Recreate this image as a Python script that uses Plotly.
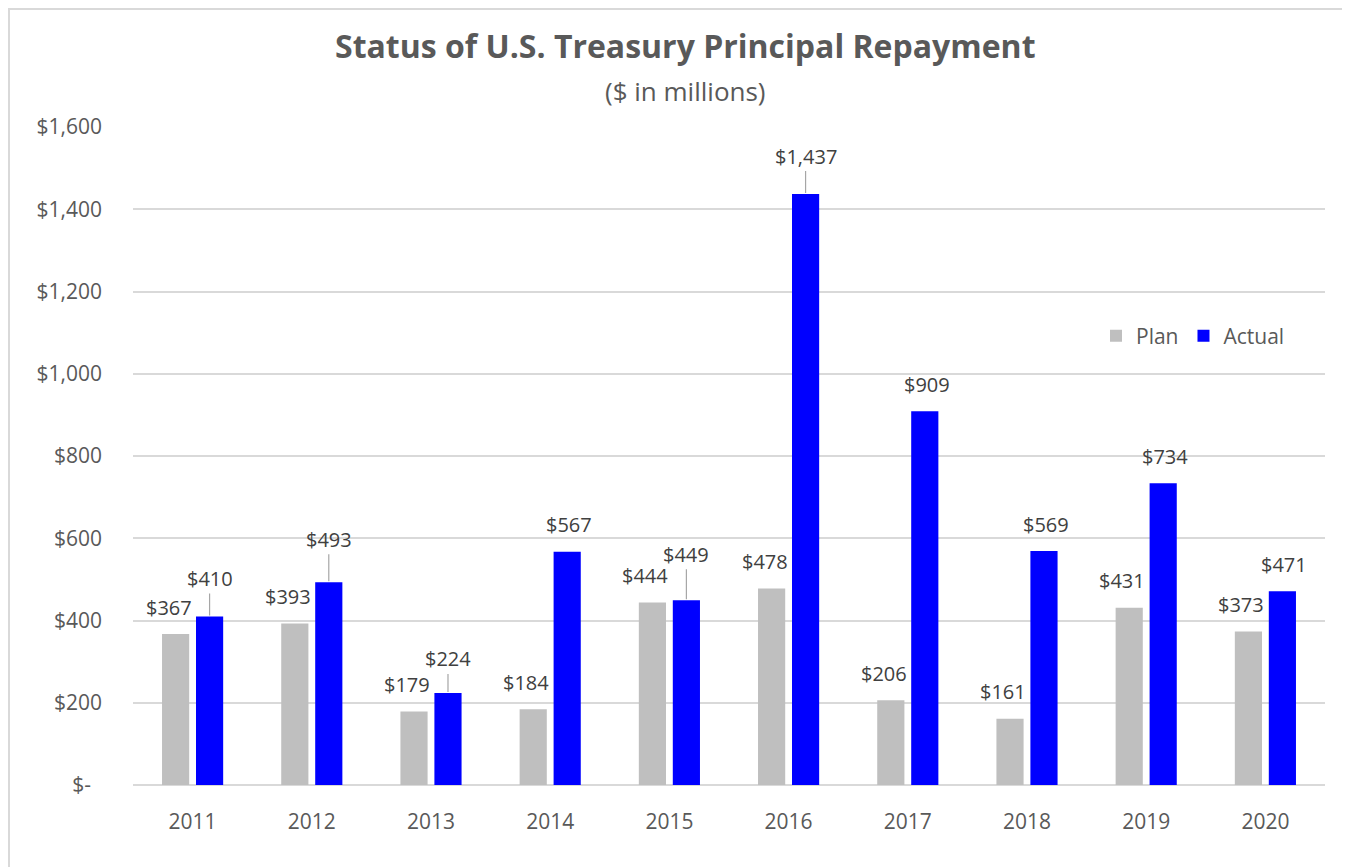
import plotly.graph_objects as go

# ---------------- data ----------------
YEARS = ["2011", "2012", "2013", "2014", "2015", "2016", "2017", "2018", "2019", "2020"]
PLAN = [367, 393, 179, 184, 444, 478, 206, 161, 431, 373]
ACTUAL = [410, 493, 224, 567, 449, 1437, 909, 569, 734, 471]
SERIES_NAMES = ["Plan", "Actual"]
Y_TICKS = [0, 200, 400, 600, 800, 1000, 1200, 1400, 1600]
Y_TICK_LABELS = ["$-\u00a0\u00a0", "$200", "$400", "$600", "$800", "$1,000", "$1,200", "$1,400", "$1,600"]
TITLE = "Status of U.S. Treasury Principal Repayment"
SUBTITLE = "($ in millions)"

# ---------------- style / layout constants ----------------
PAGE_MARGIN = 8          # default browser body margin around the plot div
SCREEN_W, SCREEN_H = 1350, 867
W, H = SCREEN_W - PAGE_MARGIN, SCREEN_H - PAGE_MARGIN
# target plot area in screen pixels
PLOT_LEFT, PLOT_RIGHT, PLOT_TOP, PLOT_BOTTOM = 133, 1325, 127, 785
M_L = PLOT_LEFT - PAGE_MARGIN
M_R = SCREEN_W - PLOT_RIGHT
M_T = PLOT_TOP - PAGE_MARGIN
M_B = SCREEN_H - PLOT_BOTTOM
PLOT_W = PLOT_RIGHT - PLOT_LEFT
PLOT_H = PLOT_BOTTOM - PLOT_TOP
BARGAP = 0.43
BARGROUPGAP = 0.2
COLORS = ["#BFBFBF", "#0000FF"]
TEXT = "#595959"
LABEL_TEXT = "#404040"
GRID = "#D9D9D9"
FONT = "Open Sans"

# label placement (pixels): default lift above bar top and horizontal nudge
LABEL_LIFT = 27
LABEL_DX = [-7, 2]
# labels drawn with a leader line: series index -> {year: lift in px}
LEADER_LIFT = {1: {"2011": 38, "2012": 43, "2013": 34, "2015": 46, "2016": 38}}

cat_px = PLOT_W / len(YEARS)
slot_px = cat_px * (1 - BARGAP) / 2
bar_offsets = [-slot_px / 2, slot_px / 2]


def px_to_paper_x(px):
    return (px - PLOT_LEFT) / PLOT_W


def px_to_paper_y(py):
    return (PLOT_BOTTOM - py) / PLOT_H


fig = go.Figure()
for i, (name, vals) in enumerate(zip(SERIES_NAMES, [PLAN, ACTUAL])):
    fig.add_trace(go.Bar(
        x=YEARS, y=vals, name=name,
        marker=dict(color=COLORS[i], line=dict(width=0)),
        hoverinfo="x+y",
    ))

annotations = []
for i, vals in enumerate([PLAN, ACTUAL]):
    leaders = LEADER_LIFT.get(i, {})
    for k, (yr, v) in enumerate(zip(YEARS, vals)):
        txt = f"${v:,}"
        if yr in leaders:
            annotations.append(dict(
                x=k, y=v, xref="x", yref="y", text=txt,
                xshift=bar_offsets[i], showarrow=True, arrowhead=0,
                arrowwidth=1.2, arrowcolor="#A6A6A6", ax=0, ay=-leaders[yr],
                standoff=1,
                font=dict(family=FONT, size=20, color=LABEL_TEXT),
            ))
        else:
            annotations.append(dict(
                x=k, y=v, xref="x", yref="y", text=txt,
                xshift=bar_offsets[i] + LABEL_DX[i], yshift=LABEL_LIFT,
                showarrow=False, xanchor="center", yanchor="middle",
                font=dict(family=FONT, size=20, color=LABEL_TEXT),
            ))

annotations.append(dict(
    x=px_to_paper_x(685), y=px_to_paper_y(46), xref="paper", yref="paper",
    text=f"<b>{TITLE}</b>", showarrow=False, xanchor="center", yanchor="middle",
    font=dict(family=FONT, size=32, color=TEXT),
))
annotations.append(dict(
    x=px_to_paper_x(685), y=px_to_paper_y(91), xref="paper", yref="paper",
    text=SUBTITLE, showarrow=False, xanchor="center", yanchor="middle",
    font=dict(family=FONT, size=26, color=TEXT),
))

fig.update_layout(
    width=W, height=H, autosize=False,
    margin=dict(l=M_L, r=M_R, t=M_T, b=M_B),
    paper_bgcolor="white", plot_bgcolor="white",
    barmode="group", bargap=BARGAP, bargroupgap=BARGROUPGAP,
    font=dict(family=FONT, color=TEXT, size=20),
    showlegend=True,
    legend=dict(
        orientation="h", x=px_to_paper_x(1290), xanchor="right",
        y=px_to_paper_y(336), yanchor="middle",
        font=dict(family=FONT, size=21, color=TEXT),
        bgcolor="rgba(0,0,0,0)", itemwidth=30, traceorder="normal",
    ),
    annotations=annotations,
    shapes=[dict(
        type="rect", xref="paper", yref="paper",
        x0=px_to_paper_x(PAGE_MARGIN + 1), x1=px_to_paper_x(1348),
        y0=px_to_paper_y(880), y1=px_to_paper_y(PAGE_MARGIN + 1),
        line=dict(color=GRID, width=2), fillcolor="rgba(0,0,0,0)", layer="below",
    )],
)

fig.update_xaxes(
    type="category", range=[-0.5, len(YEARS) - 0.5],
    showgrid=False, showline=False, ticks="",
    tickfont=dict(family=FONT, size=21, color=TEXT), ticklabelstandoff=22,
)
fig.update_yaxes(
    range=[0, 1600], tickvals=Y_TICKS, ticktext=Y_TICK_LABELS,
    showgrid=True, gridcolor=GRID, gridwidth=1.5,
    zeroline=True, zerolinecolor=GRID, zerolinewidth=1.5,
    showline=False, ticks="",
    tickfont=dict(family=FONT, size=21, color=TEXT), ticklabelstandoff=30,
)

fig.write_html("out.html")
